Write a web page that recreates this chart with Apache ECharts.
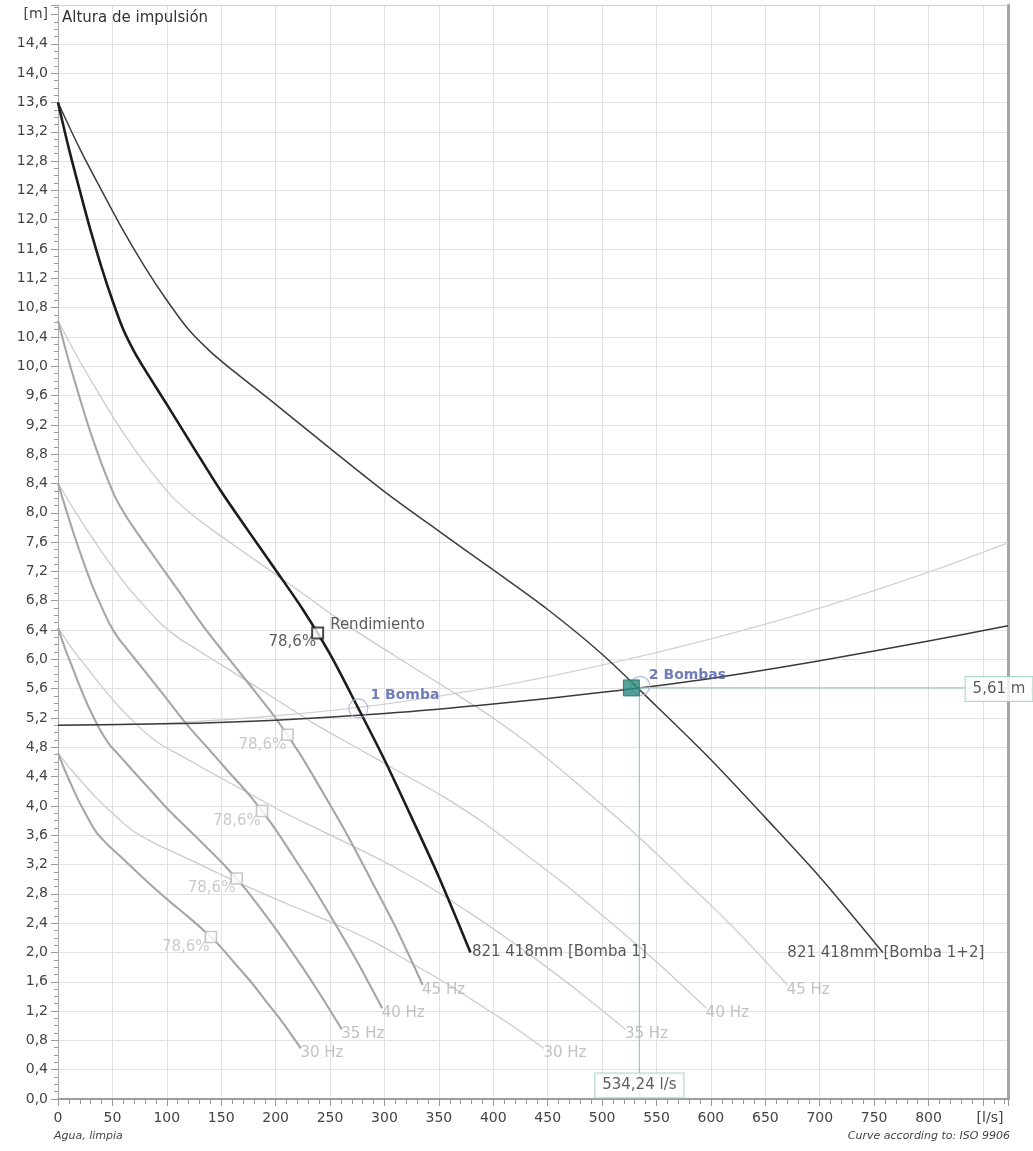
<!DOCTYPE html>
<html><head><meta charset="utf-8">
<script src="https://cdn.jsdelivr.net/npm/echarts@6/dist/echarts.min.js"></script>
<style>html,body{margin:0;padding:0;background:#fff}#c{width:1033px;height:1151px}</style>
</head><body><div id="c"></div>
<script>
// ---- axis ----
const xMin = 0, xMax = 873, xStep = 50;
const yMin = 0, yMax = 14.93, yStep = 0.4;
const xUnitLabel = '[l/s]';
const yUnitLabel = '[m]';

// ---- pump curve 821 418mm, 1 pump (Q l/s, H m) ----
const pumpQ1 = [0,10,20,30,40,50,60,70,80,100,125,150,175,200,225,250,275,300,325,350,379];
const pumpH  = [13.6,12.97,12.4,11.85,11.35,10.9,10.5,10.2,9.95,9.48,8.88,8.29,7.75,7.22,6.68,6.07,5.36,4.63,3.84,3.03,2.0];
// 2 pumps in parallel
const pumpQ2 = [0,20,40,60,80,100,120,140,160,200,250,300,350,400,450,500,550,600,650,700,758];

// ---- reduced speed curves ----
const hz45Q1 = [0,8.8,17.7,26.5,35.4,44.2,53.0,61.9,70.7,88.4,110.5,132.6,154.7,176.8,198.9,221.0,243.1,265.2,287.3,309.4,335.0];
const hz45H  = [10.62,10.13,9.68,9.25,8.86,8.51,8.20,7.97,7.77,7.40,6.94,6.47,6.05,5.64,5.22,4.74,4.19,3.62,3.00,2.37,1.56];
const hz45Q2 = [0,17.7,35.4,53.0,70.7,88.4,106.1,123.8,141.4,176.8,221.0,265.2,309.4,353.6,397.8,442.0,486.2,530.4,574.6,618.8,670.1];

const hz40Q1 = [0,7.9,15.7,23.6,31.4,39.3,47.2,55.0,62.9,78.6,98.3,117.9,137.6,157.2,176.9,196.5,216.2,235.8,255.5,275.1,297.9];
const hz40H  = [8.40,8.02,7.66,7.32,7.01,6.74,6.49,6.30,6.15,5.86,5.49,5.12,4.79,4.46,4.13,3.75,3.31,2.86,2.37,1.87,1.24];
const hz40Q2 = [0,15.7,31.4,47.2,62.9,78.6,94.3,110.0,125.8,157.2,196.5,235.8,275.1,314.4,353.7,393.0,432.3,471.6,510.9,550.2,595.8];

const hz35Q1 = [0,6.9,13.8,20.6,27.5,34.4,41.3,48.2,55.0,68.8,86.0,103.2,120.4,137.6,154.8,172.0,189.2,206.4,223.6,240.8,260.8];
const hz35H  = [6.43,6.13,5.87,5.61,5.37,5.16,4.97,4.82,4.71,4.48,4.20,3.92,3.67,3.42,3.16,2.87,2.54,2.19,1.82,1.43,0.95];
const hz35Q2 = [0,13.8,27.5,41.3,55.0,68.8,82.6,96.3,110.1,137.6,172.0,206.4,240.8,275.2,309.6,344.0,378.4,412.8,447.2,481.6,521.5];

const hz30Q1 = [0,5.9,11.8,17.7,23.6,29.5,35.3,41.2,47.1,58.9,73.6,88.4,103.1,117.8,132.5,147.3,162.0,176.7,191.4,206.2,223.2];
const hz30H  = [4.72,4.50,4.30,4.11,3.94,3.78,3.64,3.54,3.45,3.29,3.08,2.88,2.69,2.51,2.32,2.11,1.86,1.61,1.33,1.05,0.69];
const hz30Q2 = [0,11.8,23.6,35.3,47.1,58.9,70.7,82.5,94.2,117.8,147.3,176.7,206.2,235.6,265.1,294.5,324.0,353.4,382.9,412.3,446.5];

const hzLabels = ['45 Hz','40 Hz','35 Hz','30 Hz'];

// ---- system curves ----
const sysQ      = [0,100,200,300,400,500,600,700,800,873];
const sysDarkH  = [5.10,5.12,5.17,5.26,5.39,5.55,5.74,5.98,6.25,6.46];
const sysLightH = [5.10,5.13,5.23,5.39,5.62,5.92,6.28,6.70,7.19,7.59];

// ---- efficiency points (78,6 %) : nominal, 45, 40, 35, 30 Hz ----
const effQ = [238.6,210.9,187.5,164.2,140.5];
const effH = [6.36,4.97,3.93,3.01,2.21];
const effText = '78,6%';

// ---- operating points ----
const dutyQ = 534.24, dutyH = 5.61;
const onePumpQ = 276, onePumpH = 5.33;

const pumpLabel1 = '821 418mm [Bomba 1]';
const pumpLabel2 = '821 418mm [Bomba 1+2]';

// =====================================================
const FONT = 'DejaVu Sans';
const pts = (q, h) => q.map((v, i) => [v, h[i]]);
const last = (q, h) => [q[q.length - 1], h[h.length - 1]];
const comma = (v, d) => v.toFixed(d).replace('.', ',');

function curve(q, h, color, width, z) {
  return { type: 'line', data: pts(q, h), symbol: 'none', showSymbol: false, smooth: 0.3,
    z: z, silent: true, lineStyle: { color: color, width: width, join: 'round' } };
}
function textSeries(data, texts, color, size, position, offset, extra) {
  return { type: 'scatter', z: 20, silent: true, symbolSize: 1,
    itemStyle: { color: 'rgba(0,0,0,0)' },
    data: data.map((p, i) => ({ value: p, label: { formatter: texts[i] } })),
    label: Object.assign({ show: true, position: position, distance: 0, offset: offset,
      color: color, fontFamily: FONT, fontSize: size }, extra || {}) };
}

const speed1 = [[hz45Q1, hz45H], [hz40Q1, hz40H], [hz35Q1, hz35H], [hz30Q1, hz30H]];
const speed2 = [[hz45Q2, hz45H], [hz40Q2, hz40H], [hz35Q2, hz35H], [hz30Q2, hz30H]];

const yTickCount = Math.floor(yMax / yStep + 1e-9) + 1;
const ySplitColors = [];
for (let i = 0; i < yTickCount; i++) ySplitColors.push(i === yTickCount - 1 ? 'rgba(0,0,0,0)' : '#e2e2e2');
ySplitColors.push('#cfcfcf');

const series = [];
series.push(curve(sysQ, sysLightH, '#d2d2d2', 1.3, 2));
speed2.forEach(s => series.push(curve(s[0], s[1], '#cbcbcb', 1.3, 3)));
speed1.forEach(s => series.push(curve(s[0], s[1], '#a6a6a6', 2.1, 4)));
series.push(curve(sysQ, sysDarkH, '#3a3a3a', 1.5, 5));
series.push(curve(pumpQ2, pumpH, '#3c3c3c', 1.5, 6));
series.push(curve(pumpQ1, pumpH, '#1c1c1c', 2.6, 7));

// dimension lines
series.push({ type: 'line', z: 8, symbol: 'none', silent: true, lineStyle: { color: '#9ccabf', width: 1.2 },
  data: [[dutyQ, dutyH], [xMax, dutyH]] });
series.push({ type: 'line', z: 8, symbol: 'none', silent: true, lineStyle: { color: '#9ccabf', width: 1.2 },
  data: [[dutyQ, dutyH], [dutyQ, yMin]] });

// end labels
series.push(textSeries(speed1.map(s => last(s[0], s[1])), hzLabels, '#b3b3b3', 15, 'right', [-1, 5]));
series.push(textSeries(speed2.map(s => last(s[0], s[1])), hzLabels, '#b3b3b3', 15, 'right', [-1, 5]));
series.push(textSeries([last(pumpQ1, pumpH)], [pumpLabel1], '#2e2e2e', 15, 'right', [1, 0]));
series.push(textSeries([last(pumpQ2, pumpH)], [pumpLabel2], '#2e2e2e', 15, 'right', [-96, 1]));

// efficiency squares
series.push({ type: 'scatter', z: 12, silent: true, symbol: 'rect', symbolSize: 11,
  itemStyle: { color: '#fff', borderColor: '#b9b9b9', borderWidth: 1.6 },
  data: pts(effQ.slice(1), effH.slice(1)),
  label: { show: true, formatter: effText, position: 'left', distance: 0, offset: [5, 10],
    color: '#bdbdbd', fontFamily: FONT, fontSize: 15 } });
series.push({ type: 'scatter', z: 13, silent: true, symbol: 'rect', symbolSize: 11,
  itemStyle: { color: '#fff', borderColor: '#1c1c1c', borderWidth: 2 },
  data: [[effQ[0], effH[0]]],
  label: { show: true, formatter: effText, position: 'left', distance: 0, offset: [5, 9.5],
    color: '#333', fontFamily: FONT, fontSize: 15 } });
series.push(textSeries([[effQ[0], effH[0]]], ['Rendimiento'], '#333', 15, 'right', [12, -8]));

// operating points
series.push({ type: 'scatter', z: 14, silent: true, symbol: 'circle', symbolSize: 19,
  itemStyle: { color: 'rgba(0,0,0,0)', borderColor: '#a6acd8', borderWidth: 1.2 },
  data: [[onePumpQ, onePumpH]],
  label: { show: true, formatter: '1 Bomba', position: 'right', distance: 0, offset: [2, -13],
    color: '#4d5ca6', fontFamily: FONT, fontSize: 14, fontWeight: 'bold' } });
series.push({ type: 'scatter', z: 14, silent: true, symbol: 'circle', symbolSize: 19, symbolOffset: [1, -2],
  itemStyle: { color: 'rgba(0,0,0,0)', borderColor: '#a6acd8', borderWidth: 1.2 },
  data: [[dutyQ, dutyH]] });
series.push({ type: 'scatter', z: 15, silent: true, symbol: 'rect', symbolSize: 16, symbolOffset: [-8, 0],
  itemStyle: { color: '#2a8a7f', borderColor: '#1f6b62', borderWidth: 1 },
  data: [[dutyQ, dutyH]] });
series.push(textSeries([[dutyQ, dutyH]], ['2 Bombas'], '#4d5ca6', 14, 'right', [9, -13], { fontWeight: 'bold' }));

// value boxes
const boxStyle = { backgroundColor: '#fff', borderColor: '#9ccabf', borderWidth: 1, padding: [5, 7, 4, 7] };
series.push(textSeries([[xMax, dutyH]], [comma(dutyH, 2) + ' m'], '#333', 15, 'inside', [-9, 1], boxStyle));
series.push(textSeries([[dutyQ, yMin]], [comma(dutyQ, 2) + ' l/s'], '#333', 15, 'inside', [0, -13.5], boxStyle));

const axisText = { color: '#444', fontFamily: FONT, fontSize: 14 };

const option = {
  animation: false,
  backgroundColor: '#fff',
  grid: { left: 58, right: 25, top: 5, bottom: 52, containLabel: false, outerBoundsMode: 'none' },
  xAxis: [{
    type: 'value', min: xMin, max: xMax, interval: xStep, position: 'bottom',
    axisLine: { show: true, onZero: false, lineStyle: { color: '#9c9c9c', width: 2 } },
    axisTick: { show: true, length: 7, lineStyle: { color: '#999' } },
    minorTick: { show: true, splitNumber: 5, length: 5, lineStyle: { color: '#999' } },
    splitLine: { show: true, lineStyle: { color: '#e2e2e2', width: 1 } },
    axisLabel: Object.assign({ margin: 12, showMaxLabel: false, showMinLabel: true,
      formatter: v => v === 850 ? '{u|' + xUnitLabel + '}' : String(v),
      rich: { u: { color: '#444', fontFamily: FONT, fontSize: 14, padding: [0, 0, 0, 14] } } }, axisText)
  }, {
    type: 'value', min: xMin, max: xMax, position: 'top',
    axisLine: { show: true, onZero: false, lineStyle: { color: '#cfcfcf', width: 1 } },
    axisTick: { show: false }, axisLabel: { show: false }, splitLine: { show: false }
  }],
  yAxis: [{
    type: 'value', min: yMin, max: yMax, interval: yStep, position: 'left',
    axisLine: { show: true, onZero: false, lineStyle: { color: '#a8a8a8', width: 1 } },
    axisTick: { show: true, length: 7, lineStyle: { color: '#999' } },
    minorTick: { show: true, splitNumber: 4, length: 4, lineStyle: { color: '#999' } },
    splitLine: { show: true, lineStyle: { color: ySplitColors, width: 1 } },
    axisLabel: Object.assign({ margin: 10, showMaxLabel: false,
      formatter: v => Math.abs(v - 14.8) < 1e-6 ? yUnitLabel : comma(v, 1) }, axisText)
  }, {
    type: 'value', min: yMin, max: yMax, position: 'right',
    axisLine: { show: true, onZero: false, lineStyle: { color: '#a5a5a5', width: 3 } },
    axisTick: { show: false }, axisLabel: { show: false }, splitLine: { show: false }
  }],
  graphic: [
    { type: 'text', left: 62, top: 11, z: 30,
      style: { text: 'Altura de impulsión', fill: '#333', fontFamily: FONT, fontSize: 15 } },
    { type: 'text', left: 54, top: 1131, z: 30,
      style: { text: 'Agua, limpia', fill: '#444', fontFamily: FONT, fontSize: 11, fontStyle: 'italic' } },
    { type: 'text', right: 23, top: 1131, z: 30,
      style: { text: 'Curve according to: ISO 9906', fill: '#444', fontFamily: FONT, fontSize: 11, fontStyle: 'italic' } }
  ],
  series: series
};

const chart = echarts.init(document.getElementById('c'), null, { renderer: 'canvas' });
chart.setOption(option);
</script>
</body></html>
